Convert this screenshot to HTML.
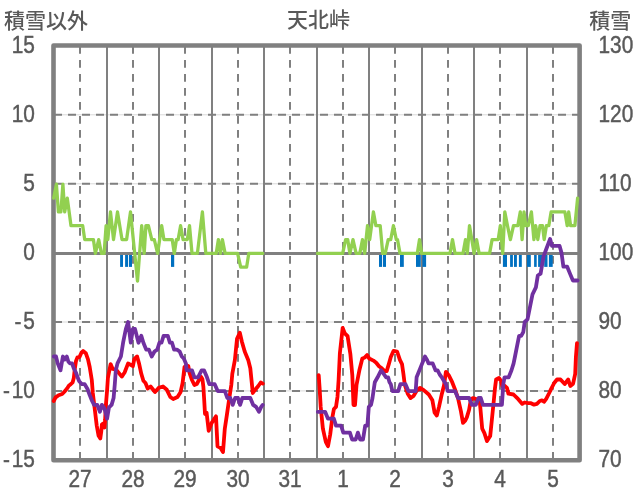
<!DOCTYPE html>
<html><head><meta charset="utf-8"><title>天北峠</title>
<style>
html,body{margin:0;padding:0;background:#fff;}
body{width:636px;height:501px;overflow:hidden;}
svg{display:block;}
</style></head><body>
<svg width="636" height="501" viewBox="0 0 636 501">
<rect x="0" y="0" width="636" height="501" fill="#fff"/>
<line x1="53.5" y1="114.8" x2="579.6" y2="114.8" stroke="#d9d9d9" stroke-width="1"/>
<line x1="54" y1="114.8" x2="579.6" y2="114.8" stroke="#808080" stroke-width="2" stroke-dasharray="8 6"/>
<line x1="53.5" y1="183.8" x2="579.6" y2="183.8" stroke="#d9d9d9" stroke-width="1"/>
<line x1="54" y1="183.8" x2="579.6" y2="183.8" stroke="#808080" stroke-width="2" stroke-dasharray="8 6"/>
<line x1="53.5" y1="322.0" x2="579.6" y2="322.0" stroke="#d9d9d9" stroke-width="1"/>
<line x1="54" y1="322.0" x2="579.6" y2="322.0" stroke="#808080" stroke-width="2" stroke-dasharray="8 6"/>
<line x1="53.5" y1="390.9" x2="579.6" y2="390.9" stroke="#d9d9d9" stroke-width="1"/>
<line x1="54" y1="390.9" x2="579.6" y2="390.9" stroke="#808080" stroke-width="2" stroke-dasharray="8 6"/>
<line x1="80" y1="46.1" x2="80" y2="460.2" stroke="#808080" stroke-width="2" stroke-dasharray="7.6 6.4"/>
<line x1="133" y1="46.1" x2="133" y2="460.2" stroke="#808080" stroke-width="2" stroke-dasharray="7.6 6.4"/>
<line x1="185" y1="46.1" x2="185" y2="460.2" stroke="#808080" stroke-width="2" stroke-dasharray="7.6 6.4"/>
<line x1="238" y1="46.1" x2="238" y2="460.2" stroke="#808080" stroke-width="2" stroke-dasharray="7.6 6.4"/>
<line x1="290" y1="46.1" x2="290" y2="460.2" stroke="#808080" stroke-width="2" stroke-dasharray="7.6 6.4"/>
<line x1="343" y1="46.1" x2="343" y2="460.2" stroke="#808080" stroke-width="2" stroke-dasharray="7.6 6.4"/>
<line x1="395" y1="46.1" x2="395" y2="460.2" stroke="#808080" stroke-width="2" stroke-dasharray="7.6 6.4"/>
<line x1="448" y1="46.1" x2="448" y2="460.2" stroke="#808080" stroke-width="2" stroke-dasharray="7.6 6.4"/>
<line x1="500" y1="46.1" x2="500" y2="460.2" stroke="#808080" stroke-width="2" stroke-dasharray="7.6 6.4"/>
<line x1="553" y1="46.1" x2="553" y2="460.2" stroke="#808080" stroke-width="2" stroke-dasharray="7.6 6.4"/>
<line x1="107" y1="45.5" x2="107" y2="460.2" stroke="#808080" stroke-width="2"/>
<line x1="159" y1="45.5" x2="159" y2="460.2" stroke="#808080" stroke-width="2"/>
<line x1="212" y1="45.5" x2="212" y2="460.2" stroke="#808080" stroke-width="2"/>
<line x1="264" y1="45.5" x2="264" y2="460.2" stroke="#808080" stroke-width="2"/>
<line x1="317" y1="45.5" x2="317" y2="460.2" stroke="#808080" stroke-width="2"/>
<line x1="369" y1="45.5" x2="369" y2="460.2" stroke="#808080" stroke-width="2"/>
<line x1="422" y1="45.5" x2="422" y2="460.2" stroke="#808080" stroke-width="2"/>
<line x1="474" y1="45.5" x2="474" y2="460.2" stroke="#808080" stroke-width="2"/>
<line x1="527" y1="45.5" x2="527" y2="460.2" stroke="#808080" stroke-width="2"/>
<rect x="120.1" y="254.5" width="2.9" height="12.4" fill="#0070c0"/>
<rect x="125.1" y="254.5" width="2.9" height="12.4" fill="#0070c0"/>
<rect x="128.9" y="254.5" width="3.1" height="12.4" fill="#0070c0"/>
<rect x="171" y="254.5" width="3.2" height="12.4" fill="#0070c0"/>
<rect x="379" y="254.5" width="3.0" height="12.4" fill="#0070c0"/>
<rect x="382.9" y="254.5" width="3.1" height="12.4" fill="#0070c0"/>
<rect x="400" y="254.5" width="3.8" height="12.4" fill="#0070c0"/>
<rect x="416" y="254.5" width="4.8" height="12.4" fill="#0070c0"/>
<rect x="422.4" y="254.5" width="3.7" height="12.4" fill="#0070c0"/>
<rect x="502.9" y="254.5" width="4.1" height="12.4" fill="#0070c0"/>
<rect x="510.1" y="254.5" width="2.8" height="12.4" fill="#0070c0"/>
<rect x="514" y="254.5" width="2.9" height="12.4" fill="#0070c0"/>
<rect x="518.9" y="254.5" width="2.9" height="12.4" fill="#0070c0"/>
<rect x="527" y="254.5" width="3.8" height="12.4" fill="#0070c0"/>
<rect x="534.1" y="254.5" width="2.6" height="12.4" fill="#0070c0"/>
<rect x="538.1" y="254.5" width="4.2" height="12.4" fill="#0070c0"/>
<rect x="544.2" y="254.5" width="3.3" height="12.4" fill="#0070c0"/>
<rect x="548.9" y="254.5" width="3.8" height="12.4" fill="#0070c0"/>
<line x1="53.5" y1="253.5" x2="579.6" y2="253.5" stroke="#808080" stroke-width="3"/>
<rect x="53.5" y="45.5" width="526.1" height="414.7" fill="none" stroke="#808080" stroke-width="4.6" stroke-linejoin="round"/>
<polyline points="53.7,198.1 56.4,184.2 58.4,211.9 60.9,211.9 62.9,184.2 64.7,211.9 67.3,198.1 71.0,225.7 82.7,225.7 84.7,239.6 93.4,239.6 95.4,253.4 98.7,239.6 101.4,253.4 104.1,253.4 106.1,225.7 107.8,239.6 110.5,211.9 113.5,239.6 117.5,211.9 122.0,239.6 126.6,239.6 130.5,211.9 137.5,281.1 141.7,225.7 144.2,253.4 145.9,225.7 148.4,225.7 151.8,239.6 154.3,239.6 157.6,253.4 161.7,225.7 163.9,239.6 172.2,239.6 174.3,253.4 176.4,239.6 178.1,239.6 180.6,225.7 183.1,239.6 187.3,239.6 189.5,225.7 192.0,253.4 197.4,253.4 202.4,211.9 205.8,253.4 216.2,253.4 218.4,239.6 220.4,253.4 222.4,239.6 225.1,253.4 237.6,253.4 240.7,267.2 246.6,267.2 248.8,253.4 262.7,253.4" fill="none" stroke="#92d050" stroke-width="3.3" stroke-linejoin="round" stroke-linecap="round"/>
<polyline points="317.5,253.4 342.7,253.4 345.6,239.6 347.7,239.6 349.9,253.4 353.0,239.6 356.1,253.4 359.8,253.4 362.5,239.6 364.7,253.4 367.5,225.7 369.7,239.6 373.4,211.9 375.9,225.7 380.2,225.7 382.7,253.4 385.2,253.4 388.2,239.6 390.7,239.6 393.4,225.7 396.3,239.6 397.5,239.6 400.0,253.4 417.3,253.4 419.5,239.6 421.6,253.4 450.0,253.4 452.5,239.6 455.0,253.4 463.0,253.4 465.5,239.6 467.3,253.4 469.5,225.7 474.1,253.4 476.6,239.6 479.1,253.4 489.6,253.4 492.1,239.6 498.2,239.6 500.3,225.7 502.7,253.4 504.8,211.9 507.5,225.7 510.4,239.6 513.5,225.7 517.8,225.7 520.3,211.9 522.1,239.6 524.0,211.9 525.8,225.7 528.3,225.7 531.4,211.9 533.9,239.6 535.7,225.7 537.8,239.6 540.0,225.7 542.5,225.7 544.2,239.6 546.4,225.7 548.8,225.7 551.1,211.9 564.9,211.9 567.2,225.7 568.7,211.9 570.6,225.7 574.9,225.7 577.6,198.1" fill="none" stroke="#92d050" stroke-width="3.3" stroke-linejoin="round" stroke-linecap="round"/>
<polyline points="53.7,401.0 55.6,397.4 58.6,395.2 62.2,394.0 64.4,391.7 67.1,388.4 68.8,385.7 71.0,384.0 72.6,382.4 73.8,378.0 74.8,369.0 76.0,361.0 77.5,357.3 79.5,357.0 81.4,352.7 83.1,351.0 85.8,353.2 88.0,359.3 89.7,367.0 91.8,380.0 92.8,393.0 94.7,408.6 96.7,425.5 98.6,435.8 100.3,438.4 101.2,432.0 101.9,424.5 103.2,423.5 104.5,427.5 105.1,420.0 105.8,406.0 107.1,390.4 107.9,378.0 110.6,364.1 112.7,369.0 116.2,369.7 121.8,376.6 124.6,372.5 128.1,363.4 132.9,366.2 134.3,359.2 137.1,356.4 139.2,364.1 141.3,373.8 143.4,380.8 145.5,383.0 147.7,388.5 150.6,386.5 155.0,392.0 158.6,387.9 163.0,386.5 166.6,389.4 170.3,397.0 173.2,399.0 177.5,397.0 180.5,392.3 182.6,383.0 184.5,367.0 186.5,365.4 188.3,366.0 189.6,373.2 192.0,380.0 194.4,385.0 196.8,384.0 199.5,379.0 201.0,376.8 202.4,379.0 203.4,387.0 204.2,400.0 205.0,414.0 206.6,412.7 208.7,430.9 211.7,422.9 216.0,416.3 217.5,446.2 220.4,447.7 223.0,452.0 224.8,428.7 227.0,414.1 229.1,399.6 231.3,385.0 232.3,373.8 234.9,359.9 237.0,338.9 239.8,332.7 241.9,341.7 244.7,351.5 248.2,359.9 250.3,368.3 251.5,380.0 252.8,393.0 255.4,389.4 258.3,386.0 260.7,382.5 262.8,383.6" fill="none" stroke="#ff0000" stroke-width="3.8" stroke-linejoin="round" stroke-linecap="round"/>
<polyline points="318.7,375.2 319.6,388.0 320.7,406.9 322.9,428.7 325.8,441.8 328.0,446.2 330.2,434.5 332.4,417.1 333.9,409.0 336.0,406.9 337.5,396.7 338.6,380.0 339.9,352.9 342.7,327.8 344.8,333.4 347.6,336.2 350.4,354.3 352.3,375.0 353.5,405.0 355.0,405.0 356.5,385.0 359.5,369.7 362.3,358.5 364.4,357.8 367.1,355.0 369.2,358.5 373.4,360.6 376.2,362.7 379.0,366.2 381.8,368.3 384.6,371.1 386.7,371.1 388.8,364.1 390.8,357.1 393.6,350.8 397.1,351.5 399.9,359.9 402.0,364.1 403.4,373.8 404.8,385.0 407.7,393.7 410.6,398.1 413.5,395.9 417.1,390.1 420.1,387.9 423.7,390.1 428.8,394.5 432.4,400.3 434.6,412.7 436.8,415.6 439.0,406.9 441.9,393.7 444.1,385.0 445.9,371.8 448.7,375.2 452.2,382.2 455.0,389.4 458.0,398.1 460.9,411.2 463.0,422.9 465.2,420.7 466.9,417.1 469.1,409.8 470.6,401.0 472.7,398.1 475.7,398.8 480.0,403.9 482.2,428.7 484.4,433.1 487.0,441.1 490.2,436.0 491.7,421.4 493.9,399.6 495.0,388.0 496.1,379.4 498.9,378.0 501.0,380.8 502.4,386.4 504.5,385.7 507.0,387.9 508.4,393.7 513.5,394.5 517.2,398.1 522.3,403.9 524.5,402.5 528.1,403.2 531.0,403.2 534.0,404.7 536.9,403.9 539.8,401.0 542.0,400.3 544.0,401.8 546.2,398.8 549.2,393.0 551.3,388.6 554.2,383.0 557.0,379.5 560.5,379.5 564.7,384.0 568.2,379.5 570.3,386.0 573.1,383.7 575.2,373.9 575.9,357.1 577.0,343.2" fill="none" stroke="#ff0000" stroke-width="3.8" stroke-linejoin="round" stroke-linecap="round"/>
<polyline points="53.8,356.5 56.0,356.5 57.7,363.4 60.5,370.3 62.9,356.5 64.7,359.5 66.8,356.5 68.3,361.5 69.9,363.4 72.1,363.4 73.7,368.1 75.9,372.5 77.6,377.3 79.2,381.3 82.0,384.2 84.7,384.2 87.5,389.0 89.7,395.0 92.1,401.0 94.1,404.9 97.3,404.9 99.9,411.8 101.9,404.9 104.5,408.6 107.1,418.7 109.0,407.3 111.6,404.9 113.6,398.0 114.8,384.2 115.8,370.3 117.5,363.4 120.9,356.5 123.1,342.7 125.9,328.9 128.1,322.0 130.8,342.7 132.9,328.9 135.0,328.9 138.5,342.7 141.3,335.8 143.4,342.7 146.2,349.6 148.9,349.6 151.7,356.5 154.5,351.5 157.3,349.6 159.4,342.7 161.5,342.7 163.6,335.8 167.8,335.8 169.9,342.7 172.0,342.7 174.1,349.6 176.9,349.6 179.7,351.5 181.8,356.5 183.8,358.5 185.9,363.4 186.6,370.3 192.0,370.3 194.4,377.3 198.0,377.3 201.6,370.3 204.0,370.3 207.0,377.3 209.3,384.2 214.7,384.2 217.7,391.1 224.9,391.1 227.3,398.0 230.3,398.0 232.7,404.9 235.1,398.0 238.0,398.0 240.1,404.9 242.3,398.0 250.3,398.0 253.2,404.9 256.1,406.9 259.0,411.8 261.2,406.9 262.7,404.9" fill="none" stroke="#7030a0" stroke-width="3.8" stroke-linejoin="round" stroke-linecap="round"/>
<polyline points="317.8,411.8 325.1,411.8 328.0,418.7 333.9,418.7 336.0,425.6 341.1,425.6 343.3,432.6 349.9,432.6 352.1,439.5 355.7,439.5 357.9,432.6 360.1,439.5 363.0,439.5 365.2,425.6 367.4,425.6 368.8,406.9 371.0,404.9 372.5,398.0 374.8,382.2 377.6,377.3 381.1,370.3 383.2,373.1 386.0,377.3 388.1,377.3 389.5,382.2 390.8,384.2 392.4,391.1 398.2,391.1 400.4,384.2 405.5,384.2 408.4,391.1 415.7,391.1 416.6,377.3 420.8,366.9 425.0,356.5 427.1,359.9 428.5,363.4 432.7,363.4 435.5,370.3 437.6,370.3 439.7,374.5 441.8,377.3 443.8,380.8 446.0,384.2 447.7,391.1 455.0,391.1 458.0,398.0 469.1,398.0 472.0,404.9 475.7,404.9 478.6,398.0 480.8,398.0 482.9,404.9 501.9,404.9 503.3,384.2 504.5,377.3 508.7,377.3 511.5,370.3 513.6,363.4 515.0,356.5 517.1,345.9 519.1,335.8 521.2,335.8 523.3,332.0 524.7,322.0 527.5,319.4 530.2,305.9 532.5,294.3 535.9,287.4 537.8,275.5 540.6,273.6 543.5,256.6 546.3,249.0 550.1,239.0 552.0,245.9 553.9,245.9 559.6,245.9 561.5,252.8 563.4,266.7 567.2,266.7 570.0,273.6 572.9,280.5 577.6,280.5" fill="none" stroke="#7030a0" stroke-width="3.8" stroke-linejoin="round" stroke-linecap="round"/>
<g font-family='"Liberation Sans", "Noto Sans CJK JP", sans-serif'>
<text x="4.0" y="27.7" font-size="21" text-anchor="start" fill="#595959" font-weight="500">積雪以外</text>
<text x="318.5" y="26.7" font-size="21" text-anchor="middle" fill="#595959" font-weight="500">天北峠</text>
<text x="589.3" y="27.7" font-size="21" text-anchor="start" fill="#595959" font-weight="500">積雪</text>
<text transform="translate(34.8,52.75) scale(0.905,1)" font-size="23.0" text-anchor="end" fill="#595959" stroke="#595959" stroke-width="0.45">15</text>
<text transform="translate(34.8,121.80) scale(0.905,1)" font-size="23.0" text-anchor="end" fill="#595959" stroke="#595959" stroke-width="0.45">10</text>
<text transform="translate(34.8,190.80) scale(0.905,1)" font-size="23.0" text-anchor="end" fill="#595959" stroke="#595959" stroke-width="0.45">5</text>
<text transform="translate(34.8,259.85) scale(0.905,1)" font-size="23.0" text-anchor="end" fill="#595959" stroke="#595959" stroke-width="0.45">0</text>
<text transform="translate(34.8,329.00) scale(0.905,1)" font-size="23.0" text-anchor="end" fill="#595959" stroke="#595959" stroke-width="0.45">-<tspan dx="2">5</tspan></text>
<text transform="translate(34.8,397.90) scale(0.905,1)" font-size="23.0" text-anchor="end" fill="#595959" stroke="#595959" stroke-width="0.45">-<tspan dx="2">10</tspan></text>
<text transform="translate(34.8,466.95) scale(0.905,1)" font-size="23.0" text-anchor="end" fill="#595959" stroke="#595959" stroke-width="0.45">-<tspan dx="2">15</tspan></text>
<text transform="translate(598.5,52.8) scale(0.905,1)" font-size="23.0" text-anchor="start" fill="#595959" stroke="#595959" stroke-width="0.45">130</text>
<text transform="translate(598.5,121.8) scale(0.905,1)" font-size="23.0" text-anchor="start" fill="#595959" stroke="#595959" stroke-width="0.45">120</text>
<text transform="translate(598.5,190.8) scale(0.905,1)" font-size="23.0" text-anchor="start" fill="#595959" stroke="#595959" stroke-width="0.45">110</text>
<text transform="translate(598.5,259.9) scale(0.905,1)" font-size="23.0" text-anchor="start" fill="#595959" stroke="#595959" stroke-width="0.45">100</text>
<text transform="translate(598.5,329.0) scale(0.905,1)" font-size="23.0" text-anchor="start" fill="#595959" stroke="#595959" stroke-width="0.45">90</text>
<text transform="translate(598.5,397.9) scale(0.905,1)" font-size="23.0" text-anchor="start" fill="#595959" stroke="#595959" stroke-width="0.45">80</text>
<text transform="translate(598.5,466.9) scale(0.905,1)" font-size="23.0" text-anchor="start" fill="#595959" stroke="#595959" stroke-width="0.45">70</text>
<text transform="translate(80,487.3) scale(0.905,1)" font-size="23.0" text-anchor="middle" fill="#595959" stroke="#595959" stroke-width="0.45">27</text>
<text transform="translate(133,487.3) scale(0.905,1)" font-size="23.0" text-anchor="middle" fill="#595959" stroke="#595959" stroke-width="0.45">28</text>
<text transform="translate(185,487.3) scale(0.905,1)" font-size="23.0" text-anchor="middle" fill="#595959" stroke="#595959" stroke-width="0.45">29</text>
<text transform="translate(238,487.3) scale(0.905,1)" font-size="23.0" text-anchor="middle" fill="#595959" stroke="#595959" stroke-width="0.45">30</text>
<text transform="translate(290,487.3) scale(0.905,1)" font-size="23.0" text-anchor="middle" fill="#595959" stroke="#595959" stroke-width="0.45">31</text>
<text transform="translate(343,487.3) scale(0.905,1)" font-size="23.0" text-anchor="middle" fill="#595959" stroke="#595959" stroke-width="0.45">1</text>
<text transform="translate(395,487.3) scale(0.905,1)" font-size="23.0" text-anchor="middle" fill="#595959" stroke="#595959" stroke-width="0.45">2</text>
<text transform="translate(448,487.3) scale(0.905,1)" font-size="23.0" text-anchor="middle" fill="#595959" stroke="#595959" stroke-width="0.45">3</text>
<text transform="translate(500,487.3) scale(0.905,1)" font-size="23.0" text-anchor="middle" fill="#595959" stroke="#595959" stroke-width="0.45">4</text>
<text transform="translate(553,487.3) scale(0.905,1)" font-size="23.0" text-anchor="middle" fill="#595959" stroke="#595959" stroke-width="0.45">5</text>
</g>
</svg>
</body></html>
